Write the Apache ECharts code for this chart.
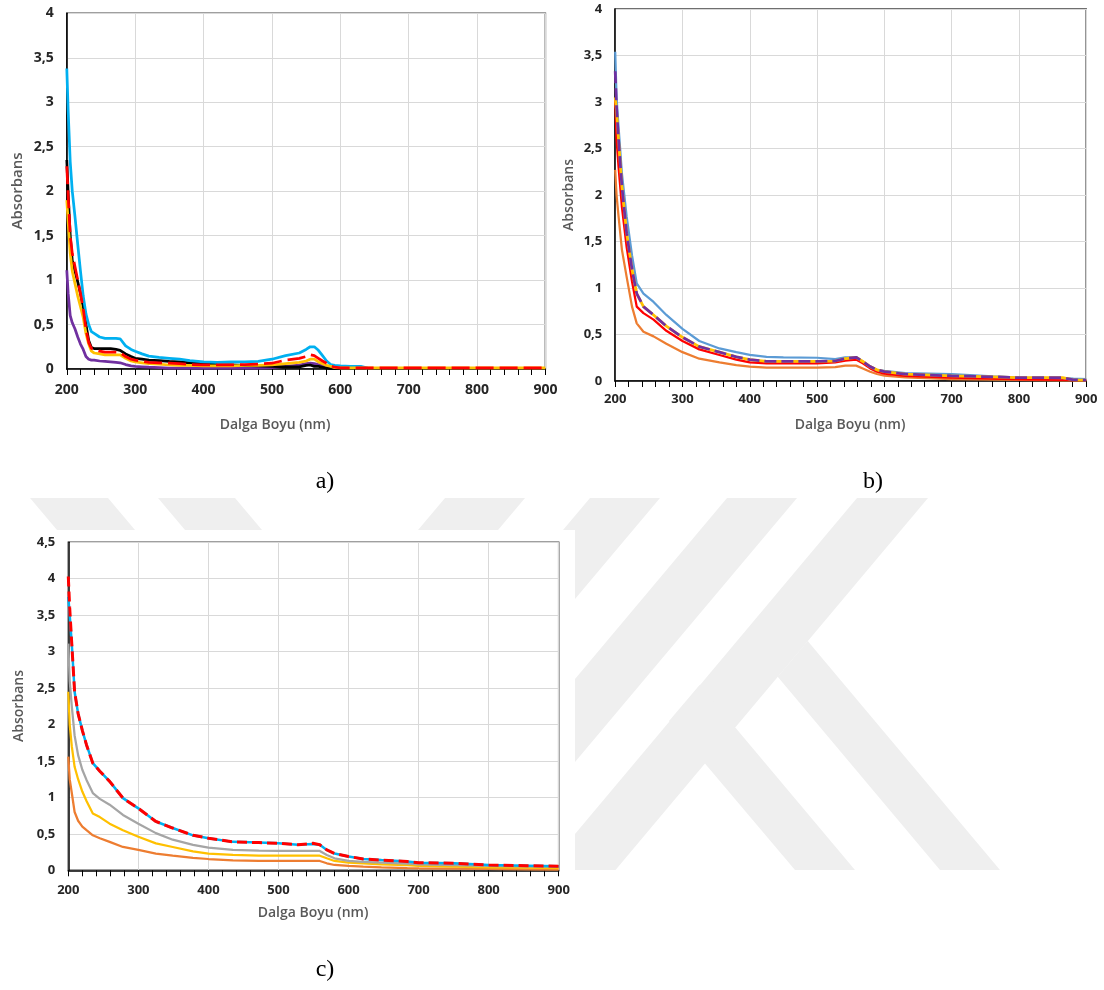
<!DOCTYPE html>
<html><head><meta charset="utf-8">
<script src="https://cdn.jsdelivr.net/npm/echarts@6/dist/echarts.min.js"></script>
<style>html,body{margin:0;padding:0;background:#fff}#c{width:1104px;height:990px}</style>
</head><body><div id="c"></div>
<script>
// ---------- Panel a ----------
const waveA = [200,202,205,208,212,216,220,224,228,232,236,240,248,256,264,272,278,286,294,300,310,320,335,350,365,380,400,420,440,460,480,500,520,540,550,556,562,568,574,580,586,592,600,615,630,640,700,800,900];
const aCyan   = [3.38,2.9,2.33,2.0,1.71,1.4,1.1,0.82,0.62,0.5,0.42,0.4,0.36,0.345,0.345,0.345,0.34,0.26,0.22,0.2,0.17,0.145,0.13,0.12,0.11,0.095,0.08,0.075,0.08,0.08,0.085,0.11,0.15,0.18,0.22,0.25,0.25,0.21,0.15,0.09,0.05,0.04,0.035,0.03,0.03,0.01,null,null,null];
const aBlack  = [2.35,1.97,1.5,1.22,1.1,0.98,0.85,0.7,0.5,0.32,0.24,0.23,0.23,0.23,0.23,0.22,0.21,0.17,0.14,0.12,0.11,0.1,0.095,0.085,0.08,0.07,0.06,0.05,0.045,0.04,0.035,0.03,0.025,0.025,0.04,0.045,0.03,0.03,0.02,0.01,0.005,0.005,0.005,null,null,null,null,null,null];
const aRed    = [2.28,1.95,1.5,1.3,1.15,1.0,0.85,0.68,0.45,0.3,0.23,0.22,0.2,0.19,0.19,0.19,0.185,0.14,0.11,0.1,0.085,0.075,0.07,0.065,0.06,0.05,0.045,0.045,0.045,0.05,0.055,0.065,0.1,0.12,0.14,0.16,0.15,0.12,0.09,0.065,0.035,0.02,0.012,0.012,0.012,0.012,0.012,0.012,0.012];
const aYellow = [1.9,1.65,1.3,1.1,0.96,0.82,0.7,0.58,0.4,0.28,0.2,0.18,0.17,0.16,0.16,0.16,0.16,0.12,0.09,0.08,0.07,0.06,0.055,0.045,0.04,0.04,0.035,0.035,0.035,0.04,0.04,0.045,0.06,0.075,0.09,0.11,0.11,0.08,0.06,0.04,0.03,0.015,0.012,0.012,0.012,0.012,0.012,0.012,0.012];
const aPurple = [1.11,0.85,0.6,0.52,0.45,0.36,0.28,0.22,0.14,0.11,0.1,0.1,0.09,0.085,0.08,0.075,0.07,0.05,0.035,0.03,0.025,0.02,0.015,0.01,0.01,0.01,0.01,0.01,0.01,0.01,0.01,0.015,0.03,0.045,0.06,0.065,0.06,0.05,0.035,0.02,0.01,0.005,0.005,null,null,null,null,null,null];

// ---------- Panel b ----------
const waveB = [200,202,205,210,217,225,232,242,257,276,300,325,355,380,400,425,450,500,527,542,558,568,579,589,600,631,700,761,800,865,881,900];
const bBlue   = [3.54,3.05,2.73,2.23,1.77,1.35,1.05,0.94,0.85,0.71,0.56,0.43,0.35,0.31,0.28,0.26,0.255,0.25,0.235,0.255,0.255,0.21,0.15,0.12,0.11,0.085,0.075,0.05,0.036,0.03,0.025,0.02];
const bPurple = [3.33,2.95,2.59,2.09,1.59,1.2,0.94,0.8,0.71,0.59,0.47,0.37,0.31,0.26,0.23,0.21,0.21,0.21,0.215,0.24,0.255,0.21,0.155,0.12,0.1,0.075,0.055,0.045,0.036,0.036,0.012,0.01];
const bYellow = [3.05,2.9,2.59,2.09,1.59,1.2,0.94,0.8,0.71,0.59,0.47,0.37,0.31,0.26,0.23,0.21,0.21,0.21,0.215,0.24,0.255,0.21,0.155,0.12,0.1,0.075,0.055,0.045,0.036,0.036,0.012,0.01];
const bRed    = [3.02,2.6,2.3,1.87,1.44,1.07,0.8,0.73,0.66,0.54,0.43,0.34,0.28,0.23,0.2,0.19,0.19,0.19,0.2,0.22,0.23,0.19,0.135,0.1,0.08,0.055,0.036,0.025,0.018,0.012,0.01,0.01];
const bOrange = [2.27,2.0,1.77,1.41,1.12,0.8,0.62,0.53,0.48,0.4,0.31,0.24,0.2,0.17,0.155,0.145,0.145,0.145,0.15,0.165,0.165,0.135,0.1,0.075,0.057,0.04,0.02,0.015,0.012,0.008,0.007,0.007];

// ---------- Panel c ----------
const waveC = [200,202,205,209,214,220,226,235,245,259,278,300,325,349,378,400,435,472,500,528,549,559,569,580,600,621,647,684,700,751,800,855,900];
const cRed    = [4.03,3.6,3.1,2.45,2.15,1.92,1.72,1.47,1.36,1.22,0.99,0.85,0.67,0.58,0.48,0.44,0.39,0.38,0.37,0.35,0.37,0.35,0.28,0.23,0.19,0.155,0.14,0.12,0.105,0.096,0.073,0.064,0.055];
const cCyan   = [3.75,3.5,3.1,2.45,2.15,1.92,1.72,1.47,1.36,1.22,0.99,0.85,0.67,0.58,0.48,0.44,0.39,0.38,0.37,0.35,0.36,0.35,0.28,0.23,0.19,0.155,0.14,0.12,0.105,0.096,0.073,0.064,0.055];
const cGray   = [3.11,2.6,2.25,1.85,1.58,1.38,1.24,1.06,0.98,0.9,0.76,0.64,0.51,0.42,0.35,0.31,0.28,0.27,0.265,0.265,0.265,0.265,0.21,0.165,0.128,0.115,0.105,0.09,0.082,0.072,0.06,0.055,0.05];
const cYellow = [2.45,2.0,1.7,1.42,1.25,1.08,0.95,0.78,0.73,0.64,0.55,0.46,0.37,0.32,0.26,0.23,0.21,0.2,0.2,0.2,0.2,0.2,0.165,0.128,0.105,0.095,0.082,0.07,0.06,0.05,0.04,0.035,0.03];
const cOrange = [1.56,1.25,1.06,0.8,0.68,0.6,0.55,0.48,0.44,0.39,0.32,0.28,0.23,0.2,0.17,0.155,0.135,0.13,0.128,0.128,0.128,0.128,0.096,0.073,0.06,0.05,0.04,0.03,0.027,0.022,0.018,0.014,0.01];

// tick values
const xTicks = {min:200, max:900, interval:100};
const yTicksAB = {min:0, max:4, interval:0.5};
const yTicksC = {min:0, max:4.5, interval:0.5};
const xTitle = 'Dalga Boyu (nm)';
const yTitle = 'Absorbans';
const captions = ['a)','b)','c)'];

const pts = (w, v) => w.map((x, i) => [x, v[i] === null ? '-' : v[i]]);
const FONT = '"Open Sans", "Liberation Sans", sans-serif';

const grids = [
  {left:66.8, top:13.3, width:478.6, height:355.7},
  {left:615.2, top:9, width:471, height:372},
  {left:68.3, top:542.3, width:490.4, height:328}
];
const lab = [
  {xm:14, xs:14, ys:15, tf:14, xt:[275,425], yt:[18,191]},
  {xm:12, xs:14, ys:14, tf:13, xt:[850,425], yt:[569,195]},
  {xm:13, xs:14, ys:14, tf:13, xt:[313,913], yt:[19,706]}
];

const xAxes = grids.map((g, i) => ({
  type:'value', gridIndex:i, min:xTicks.min, max:xTicks.max, interval:xTicks.interval,
  axisLine:{show:true, lineStyle:{color:'#000', width:1.5}},
  axisTick:{show:true, length:6, lineStyle:{color:'#000', width:1}},
  minorTick:{show:true, splitNumber:5, length:6, lineStyle:{color:'#000', width:1}},
  splitLine:{show:true, lineStyle:{color:'#d9d9d9', width:1}},
  axisLabel:{margin:lab[i].xm, fontFamily:FONT, fontWeight:'bold', fontSize:lab[i].tf, color:'#262626'}
}));

const yAxes = grids.map((g, i) => {
  const t = i === 2 ? yTicksC : yTicksAB;
  return {
    type:'value', gridIndex:i, min:t.min, max:t.max, interval:t.interval,
    axisLine:{show:true, lineStyle:{color:'#000', width:1.5}},
    axisTick:{show:false},
    splitLine:{show:true, lineStyle:{color:'#d9d9d9', width:1}},
    axisLabel:{margin:13, fontFamily:FONT, fontWeight:'bold', fontSize:lab[i].tf, color:'#262626',
      formatter: v => String(v).replace('.', ',')}
  };
});

function line(gi, wave, vals, color, width, dash) {
  return {type:'line', xAxisIndex:gi, yAxisIndex:gi, data:pts(wave, vals), showSymbol:false, symbol:'none',
    connectNulls:false, lineStyle:{color, width, type: dash || 'solid'}, itemStyle:{color}};
}

const series = [
  line(0, waveA, aPurple, '#7030a0', 2.75),
  line(0, waveA, aBlack, '#000000', 2.75),
  line(0, waveA, aCyan, '#00b0f0', 2.75),
  line(0, waveA, aYellow, '#ffc000', 2.75),
  line(0, waveA, aRed, '#ff0000', 2.75, [18,6]),

  line(1, waveB, bOrange, '#ed7d31', 2.25),
  line(1, waveB, bRed, '#ff0000', 2.25),
  line(1, waveB, bBlue, '#5b9bd5', 2.25),
  line(1, waveB, bYellow, '#ffc000', 2.75),
  line(1, waveB, bPurple, '#7030a0', 2.75, [12,5]),

  line(2, waveC, cOrange, '#ed7d31', 2.25),
  line(2, waveC, cYellow, '#ffc000', 2.25),
  line(2, waveC, cGray, '#a5a5a5', 2.25),
  line(2, waveC, cCyan, '#00b0f0', 2.5),
  line(2, waveC, cRed, '#ff0000', 3, [10,5])
];

// decorative background watermark (light grey), clipped away from panel c's box
const WM = '#efefef';
const wmPolys = [
  [[30,498],[108,498],[135,530],[57,530]],
  [[158,498],[235,498],[262,530],[185,530]],
  [[445,498],[525,498],[498,530],[418,530]],
  [[590,498],[660,498],[575,599],[575,530],[563,530]],
  [[727,498],[797,498],[575,762],[575,679]],
  [[857,498],[928,498],[615.5,870],[575,870],[575,834]],
  [[699.6,685],[855,870],[795,870],[669,721]],
  [[807.7,641],[1000,870],[940,870],[777.7,676.8]]
];
const graphic = [];
wmPolys.forEach(p => graphic.push({type:'polygon', silent:true, shape:{points:p}, style:{fill:WM}}));
lab.forEach(l => {
  graphic.push({type:'text', silent:true, x:l.xt[0], y:l.xt[1],
    style:{text:xTitle, font:'600 ' + l.xs + 'px "Open Sans", "Liberation Sans", sans-serif', fill:'#595959', align:'center', verticalAlign:'middle'}});
  graphic.push({type:'text', silent:true, x:l.yt[0], y:l.yt[1], rotation:Math.PI / 2,
    style:{text:yTitle, font:'600 ' + l.ys + 'px "Open Sans", "Liberation Sans", sans-serif', fill:'#595959', align:'center', verticalAlign:'middle'}});
});
const capPos = [[325,482],[873,482],[325,970]];
captions.forEach((c, i) => graphic.push({type:'text', silent:true, x:capPos[i][0], y:capPos[i][1],
  style:{text:c, font:'24px "Liberation Serif", "Times New Roman", serif', fill:'#000', align:'center', verticalAlign:'middle'}}));

const chart = echarts.init(document.getElementById('c'));
chart.setOption({
  animation:false,
  grid: grids.map(g => Object.assign({show:true, borderColor:'#404040', borderWidth:1.5, backgroundColor:'#fff'}, g)),
  xAxis:xAxes, yAxis:yAxes, series, graphic
});
</script></body></html>
